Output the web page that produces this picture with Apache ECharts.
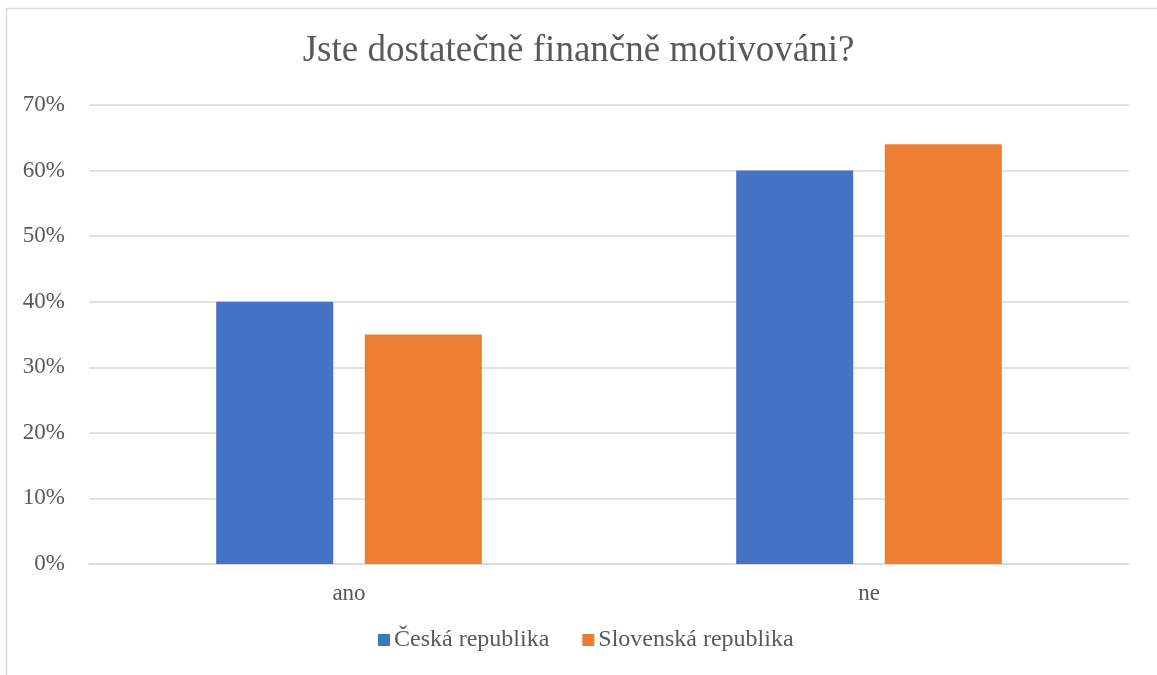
<!DOCTYPE html>
<html>
<head>
<meta charset="utf-8">
<script src="https://cdn.jsdelivr.net/npm/echarts@6/dist/echarts.min.js"></script>
<style>
  html, body { margin: 0; padding: 0; background: #fff; }
  #chart { width: 1157px; height: 675px; }
</style>
</head>
<body>
<div id="chart"></div>
<script>
// Survey answers: share of respondents per country
const categories = ['ano', 'ne'];
const czechValues = [40, 60];
const slovakValues = [35, 64];
const seriesNames = ['Česká republika', 'Slovenská republika'];
const titleText = 'Jste dostatečně finančně motivováni?';

const serif = '"Liberation Serif", "DejaVu Serif", serif';
const textColor = '#595959';

const chart = echarts.init(document.getElementById('chart'));
chart.setOption({
  backgroundColor: '#ffffff',
  animation: false,
  title: {
    text: titleText,
    left: 'center',
    top: 28,
    textStyle: { fontFamily: serif, fontSize: 37, fontWeight: 'normal', color: textColor }
  },
  graphic: [{
    type: 'rect',
    shape: { x: 6.5, y: 8.5, width: 1200, height: 700 },
    style: { fill: 'none', stroke: '#d9d9d9', lineWidth: 1.5 },
    silent: true
  }],
  legend: {
    bottom: 18,
    left: 373,
    itemWidth: 12,
    itemHeight: 12,
    itemGap: 33,
    icon: 'rect',
    textStyle: { fontFamily: serif, fontSize: 24, color: textColor, padding: [0, 0, 0, -1] },
    data: seriesNames
  },
  grid: { left: 89, right: 28, top: 105, bottom: 111, containLabel: false },
  xAxis: {
    type: 'category',
    data: categories,
    axisLine: { show: true, lineStyle: { color: '#d9d9d9', width: 1.5 } },
    axisTick: { show: false },
    axisLabel: { fontFamily: serif, fontSize: 23, color: textColor, margin: 18 }
  },
  yAxis: {
    type: 'value',
    min: 0,
    max: 70,
    interval: 10,
    axisLine: { show: false },
    axisTick: { show: false },
    splitLine: { lineStyle: { color: '#d9d9d9', width: 1.5 } },
    axisLabel: { fontFamily: serif, fontSize: 23, color: textColor, margin: 24, formatter: '{value}%' }
  },
  series: [
    {
      name: seriesNames[0],
      type: 'bar',
      data: czechValues,
      barWidth: 117,
      barGap: '27%',
      itemStyle: { color: '#4472c4' }
    },
    {
      name: seriesNames[1],
      type: 'bar',
      data: slovakValues,
      barWidth: 117,
      barGap: '27%',
      itemStyle: { color: '#ed7d31' }
    }
  ]
});
</script>
</body>
</html>
